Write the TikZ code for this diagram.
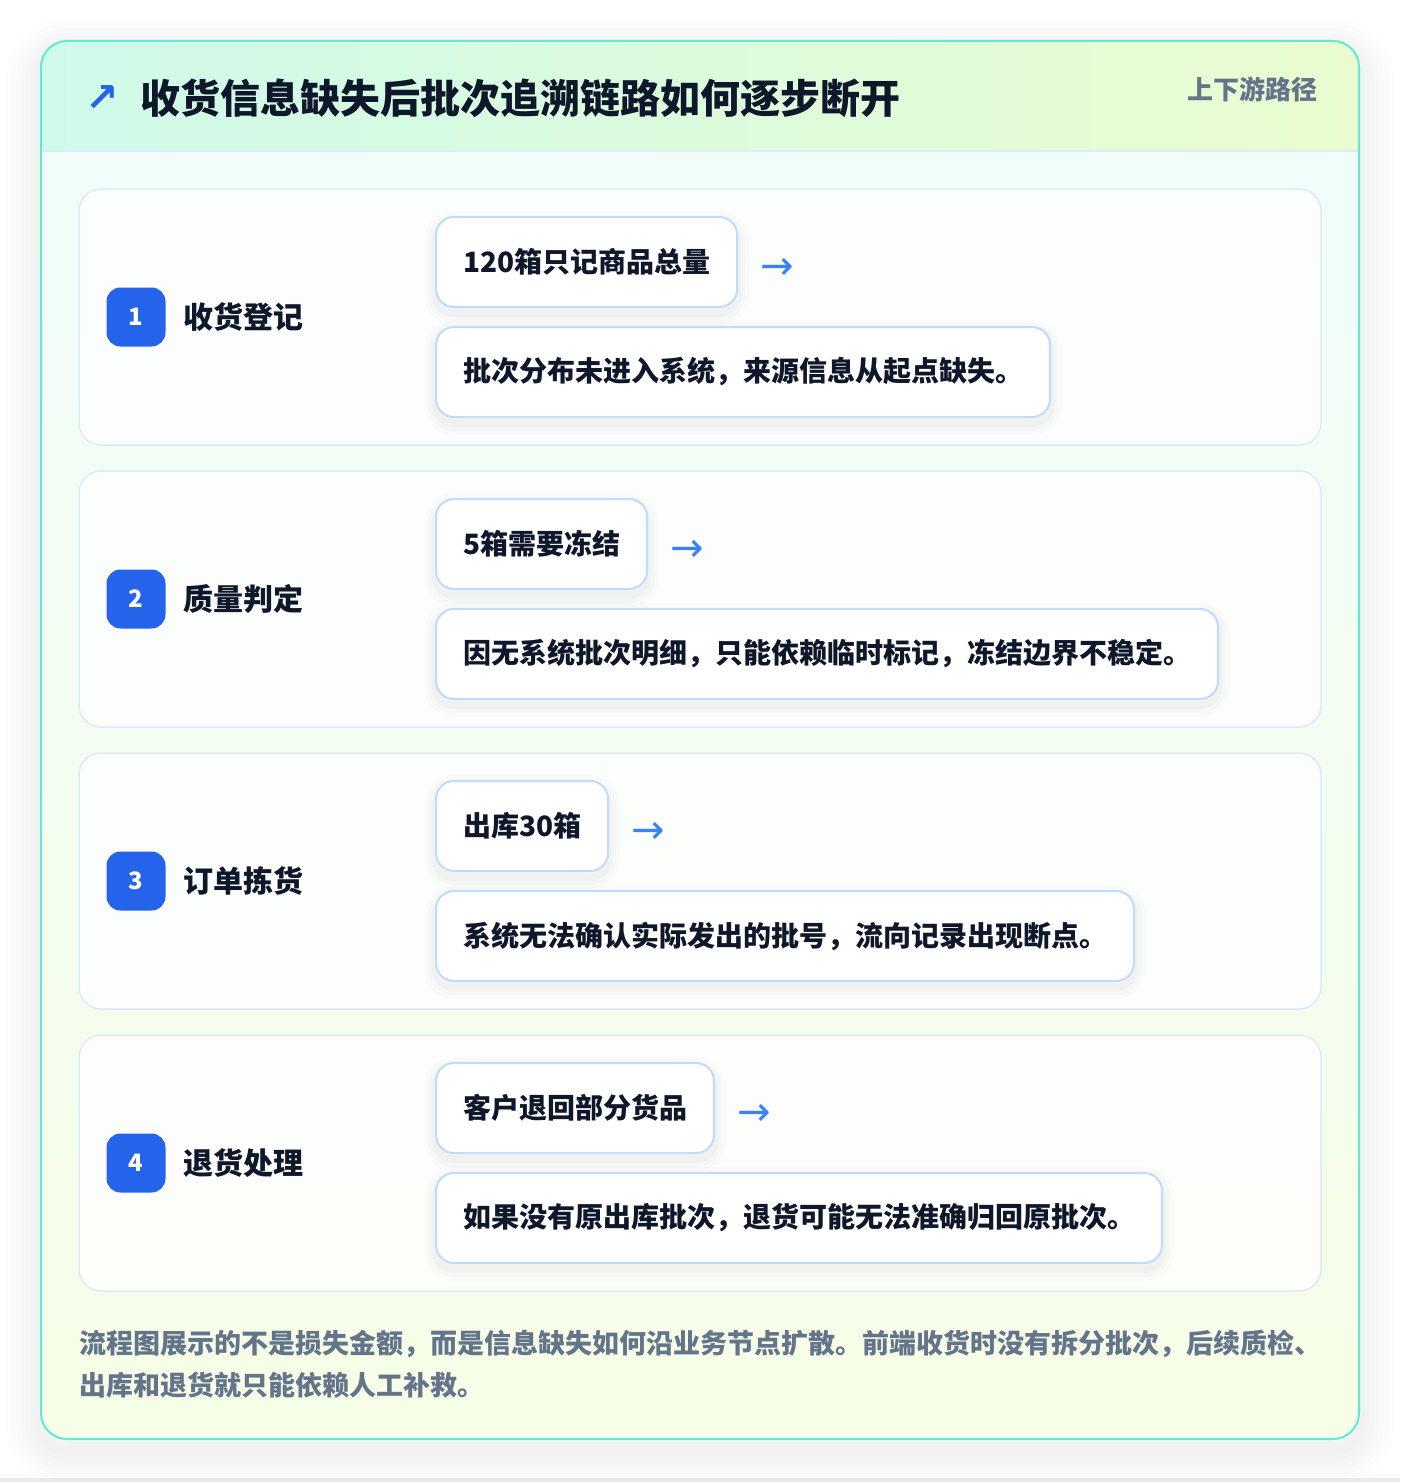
\documentclass[tikz,border=0pt]{standalone}
\usepackage{fontspec}
\setmainfont{Noto Sans CJK SC}
\newfontfamily\symfont{DejaVu Sans}
\usetikzlibrary{positioning}

\definecolor{ink}{HTML}{0F172A}
\definecolor{muted}{HTML}{64748B}
\definecolor{brand}{HTML}{2563EB}
\definecolor{flowblue}{HTML}{3B82F6}
\definecolor{tealedge}{HTML}{5EEAD4}
\definecolor{headmint}{HTML}{CFFAEA}
\definecolor{headlime}{HTML}{EAFCCF}
\definecolor{bodymint}{HTML}{F0FDF9}
\definecolor{bodylime}{HTML}{F7FEE7}
\definecolor{cardedge}{HTML}{DBEAFE}
\definecolor{boxedge}{HTML}{BFDBFE}

\tikzset{
  stagecard/.style={draw=cardedge,line width=1.5pt,fill=white,fill opacity=0.8,rounded corners=22pt},
  badge/.style={fill=brand,rounded corners=14pt,minimum size=59pt,inner sep=0pt,text=white,
    font=\bfseries\fontsize{24}{24}\selectfont},
  stagelabel/.style={anchor=west,inner sep=0pt,text=ink,font=\bfseries\fontsize{30}{30}\selectfont},
  factbox/.style={draw=boxedge,line width=2pt,fill=white,rounded corners=18pt,
    minimum height=90pt,inner xsep=27pt,inner ysep=0pt,anchor=west,text=ink,
    font=\bfseries\fontsize{28}{28}\selectfont,
    preaction={draw=black,draw opacity=0.018,line width=8pt,transform canvas={yshift=-6pt}},
    preaction={draw=black,draw opacity=0.014,line width=16pt,transform canvas={yshift=-6pt}},
    preaction={draw=black,draw opacity=0.010,line width=24pt,transform canvas={yshift=-6pt}}},
  flowmark/.style={inner sep=0pt,text=flowblue,font=\symfont\fontsize{40}{40}\selectfont},
  notetext/.style={anchor=base west,inner sep=0pt,text=muted,font=\bfseries\fontsize{27}{27}\selectfont},
}

\begin{document}
\begin{tikzpicture}[x=1pt,y=-1pt]
  \useasboundingbox (0,0) rectangle (1400,1482);
  \fill[white] (0,0) rectangle (1400,1482);
  \fill[black!8] (0,1478) rectangle (1400,1482);

  % outer card with soft shadow
  \foreach \w in {10,20,...,70}
    \draw[black,draw opacity=0.009,line width=\w pt,rounded corners=26pt] (41,53) rectangle (1359,1451);
  \begin{scope}
    \clip[rounded corners=26pt] (41,41) rectangle (1359,1439);
    \shade[top color=bodymint,bottom color=bodylime] (41,151) rectangle (1359,1439);
    \shade[left color=headmint,right color=headlime] (41,41) rectangle (1359,151);
  \end{scope}
  \draw[cardedge,line width=1.5pt] (41,151) -- (1359,151);
  \draw[tealedge,line width=2pt,rounded corners=26pt] (41,41) rectangle (1359,1439);

  % header
  \node[text=brand,inner sep=0pt,font=\symfont\bfseries\fontsize{40}{40}\selectfont] (titlemark) at (102,99) {↗};
  \node[anchor=west,inner sep=0pt,text=ink,font=\bfseries\fontsize{40}{40}\selectfont] (title) at (140,98)
    {收货信息缺失后批次追溯链路如何逐步断开};
  \node[anchor=east,inner sep=0pt,text=muted,font=\bfseries\fontsize{26}{26}\selectfont] (pathtag) at (1318,89) {上下游路径};

  % stages
  \foreach \i/\stage/\fact/\effect in {
      1/收货登记/120箱只记商品总量/批次分布未进入系统，来源信息从起点缺失。,
      2/质量判定/5箱需要冻结/因无系统批次明细，只能依赖临时标记，冻结边界不稳定。,
      3/订单拣货/出库30箱/系统无法确认实际发出的批号，流向记录出现断点。,
      4/退货处理/客户退回部分货品/如果没有原出库批次，退货可能无法准确归回原批次。} {
    \pgfmathsetmacro\ytop{189+282*(\i-1)}
    \draw[stagecard] (79,\ytop) rectangle (1321,\ytop+256);
    \node[badge] (badge\i) at (136,\ytop+128) {\i};
    \node[stagelabel,right=18pt of badge\i] (stage\i) {\stage};
    \node[factbox] (fact\i) at (435,\ytop+73) {\fact};
    \node[factbox] (effect\i) at (435,\ytop+183) {\effect};
    \node[flowmark,right=22pt of fact\i,yshift=-7pt] (mark\i) {→};
  }

  % footer note
  \node[notetext] (note) at (79,1353)
    {流程图展示的不是损失金额，而是信息缺失如何沿业务节点扩散。前端收货时没有拆分批次，后续质检、};
  \node[notetext] (notecont) at (79,1395) {出库和退货就只能依赖人工补救。};
\end{tikzpicture}
\end{document}
